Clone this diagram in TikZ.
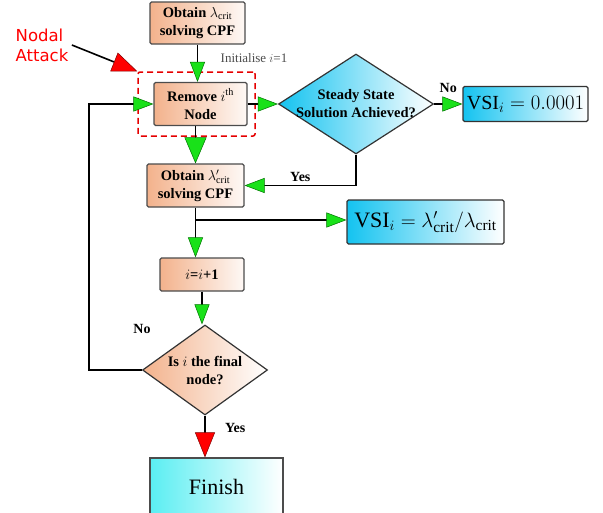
\documentclass[tikz,border=0pt]{standalone}
\usepackage{fontspec}
\setmainfont{Liberation Serif}
\newfontfamily\attackfont{DejaVu Sans}
\usetikzlibrary{arrows.meta,shapes.geometric}
\definecolor{peach}{RGB}{243,178,140}
\definecolor{skyblue}{RGB}{20,195,240}
\definecolor{aqua}{RGB}{90,238,242}
\definecolor{tipgreen}{RGB}{25,225,25}
\tikzset{
  orangebox/.style={draw=black!70, line width=1.2pt, rounded corners=1.5pt, left color=peach, right color=peach!8, align=center, inner sep=0pt, font=\fontsize{14.5}{18}\selectfont\bfseries},
  bluebox/.style={draw=black!80, line width=1.2pt, rounded corners=1.5pt, left color=skyblue, right color=white, inner sep=0pt, font=\fontsize{20}{24}\selectfont},
  decision/.style={diamond, draw=black!80, line width=1.2pt, align=center, inner xsep=-8pt, inner ysep=-4pt, font=\fontsize{14.5}{18}\selectfont\bfseries},
  flow/.style={line width=1.6pt, -{Triangle[width=15pt, length=20pt, fill=tipgreen, color=green!45!black, line width=0.5pt]}},
  bigflow/.style={line width=1.6pt, -{Triangle[width=22pt, length=26pt, fill=tipgreen, color=green!45!black, line width=0.5pt]}},
  redflow/.style={line width=1.6pt, -{Triangle[width=20pt, length=25pt, fill=red, color=red!50!black, line width=0.5pt]}},
  tag/.style={font=\fontsize{14}{17}\selectfont\bfseries}
}
\begin{document}
\begin{tikzpicture}[x=1pt, y=-1pt]
	\useasboundingbox (0,0) rectangle (603,512);
	\node[orangebox, minimum width=95, minimum height=42] (cpf) at (197.5,23) {Obtain $\lambda_{\mathrm{crit}}$\\solving CPF};
	\node[orangebox, minimum width=93, minimum height=43] (remove) at (200.5,104) {Remove $i^{\mathrm{th}}$\\Node};
	\node[draw=red!90!black, line width=1.5pt, dash pattern=on 6pt off 4pt, rounded corners=2pt, minimum width=117, minimum height=64] (zone) at (196.5,104) {};
	\node[text=red, font=\attackfont\fontsize{16.5}{20}\selectfont, align=left] (attack) at (42,45) {Nodal\\Attack};
	\node[text=black!70, font=\fontsize{13}{16}\selectfont] (init) at (254,58) {Initialise $i$=1};
	\node[decision, left color=skyblue, right color=white, shape aspect=1.55, minimum width=155, minimum height=100] (steady) at (356,104) {Steady State\\Solution Achieved?};
	\node[bluebox, minimum width=125, minimum height=35] (vsizero) at (525.5,104) {$\mathrm{VSI}_i=0.0001$};
	\node[orangebox, minimum width=97, minimum height=43] (cpfnew) at (195.5,185.5) {Obtain $\lambda'_{\mathrm{crit}}$\\solving CPF};
	\node[bluebox, minimum width=157, minimum height=44, font=\fontsize{22}{26}\selectfont] (vsiratio) at (425.5,222) {$\mathrm{VSI}_i=\lambda'_{\mathrm{crit}}/\lambda_{\mathrm{crit}}$};
	\node[orangebox, minimum width=84, minimum height=33] (next) at (202,274.5) {$i$=$i$+1};
	\node[decision, left color=peach, right color=white, shape aspect=1.39, minimum width=125, minimum height=90] (final) at (205,370) {Is $i$ the final\\node?};
	\node[draw=black!70, line width=1.2pt, left color=aqua, right color=white, minimum width=133, minimum height=58, font=\fontsize{22}{26}\selectfont] (finish) at (216.5,487) {Finish};
	\coordinate (split) at (195.5,220);
	\coordinate (back) at (89,370);
	\draw[flow] (cpf.south) -- (cpf.south |- remove.north);
	\draw[flow] (remove) -- (steady);
	\draw[flow] (steady) -- node[tag, above=7pt] {No} (vsizero);
	\draw[bigflow] (remove.south -| cpfnew) -- (cpfnew);
	\draw[flow] (steady.south) |- node[tag, pos=0.75, above] {Yes} (cpfnew);
	\draw[line width=1.6pt] (cpfnew) -- (split);
	\draw[flow] (split) -- (split -| vsiratio.west);
	\draw[flow] (split) -- (split |- next.north);
	\draw[flow] (next.south) -- (next.south |- final.north);
	\draw[flow] (final) -- (back) |- (remove);
	\node[tag] at (142,329) {No};
	\draw[redflow] (final.south) -- node[tag, right=16pt, pos=0.3] {Yes} (final.south |- finish.north);
	\draw[redflow] (attack.east) -- (zone.north west);
\end{tikzpicture}
\end{document}
